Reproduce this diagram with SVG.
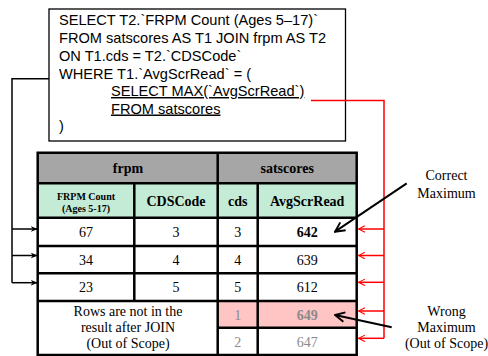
<svg xmlns="http://www.w3.org/2000/svg" width="488" height="356" viewBox="0 0 488 356">
<style>
.sql{font-family:"Liberation Sans",Arial,sans-serif;font-size:14.6px;fill:#000}
.t{font-family:"Liberation Serif","Times New Roman",serif;font-size:14px;fill:#000;text-anchor:middle}
.b{font-weight:bold}
.g{fill:#8a8a8a}
.grid{stroke:#000;stroke-width:2.5;fill:none}
.blk{stroke:#000;stroke-width:1.5;fill:none}
.red{stroke:#ff0000;stroke-width:1.5;fill:none}
.arr{stroke:#000;stroke-width:2;fill:none}
</style>
<defs>
<marker id="ah" viewBox="0 0 10 10" refX="9" refY="5" markerWidth="7" markerHeight="7" markerUnits="userSpaceOnUse" orient="auto">
<path d="M0,1 L10,5 L0,9 L3,5 Z" fill="#000"/>
</marker>
<marker id="ahr" viewBox="0 0 10 10" refX="9" refY="5" markerWidth="8" markerHeight="8" markerUnits="userSpaceOnUse" orient="auto">
<path d="M1,1 L9,5 L1,9" fill="none" stroke="#ff0000" stroke-width="1.3"/>
</marker>
<marker id="ahb" viewBox="0 0 10 10" refX="9" refY="5" markerWidth="12" markerHeight="12" markerUnits="userSpaceOnUse" orient="auto">
<path d="M1,1 L9,5 L1,9" fill="none" stroke="#000" stroke-width="1.6"/>
</marker>
</defs>
<rect width="488" height="356" fill="#fff"/>

<g id="sql">
<rect x="49" y="9" width="296.5" height="132" fill="#fff" stroke="#000" stroke-width="1.3"/>
<text class="sql" x="59" y="25">SELECT T2.`FRPM Count (Ages 5–17)`</text>
<text class="sql" x="59" y="43">FROM satscores AS T1 JOIN frpm AS T2</text>
<text class="sql" x="59" y="60.5">ON T1.cds = T2.`CDSCode`</text>
<text class="sql" x="59" y="78.5">WHERE T1.`AvgScrRead` = (</text>
<text class="sql" x="111" y="96" text-decoration="underline">SELECT MAX(`AvgScrRead`)</text>
<text class="sql" x="111" y="113.5" text-decoration="underline">FROM satscores</text>
<text class="sql" x="59" y="131">)</text>
</g>

<g id="table">
<rect x="37.7" y="152.7" width="319" height="30.6" fill="#a6a6a6"/>
<rect x="37.7" y="183.3" width="319" height="34.4" fill="#c3ebd6"/>
<rect x="217.7" y="301" width="139" height="26.7" fill="#ffc4c4"/>
<path class="grid" d="M37.7,152.7 H356.7 V355 H37.7 Z M37.7,183.3 H356.7 M37.7,217.7 H356.7 M37.7,246 H356.7 M37.7,273.3 H356.7 M37.7,301 H356.7 M217.7,327.7 H356.7 M217.7,152.7 V355 M134.3,183.3 V301 M257.7,183.3 V355"/>
<text class="t b" x="128" y="173">frpm</text>
<text class="t b" x="287.2" y="173">satscores</text>
<text class="t b" x="86" y="199.5" style="font-size:10px">FRPM Count</text>
<text class="t b" x="86" y="211.5" style="font-size:10px">(Ages 5-17)</text>
<text class="t b" x="176" y="205.5">CDSCode</text>
<text class="t b" x="237.7" y="205.5">cds</text>
<text class="t b" x="307.2" y="205.5">AvgScrRead</text>
<text class="t" x="86" y="237">67</text>
<text class="t" x="176" y="237">3</text>
<text class="t" x="237.7" y="237">3</text>
<text class="t b" x="307.2" y="237">642</text>
<text class="t" x="86" y="264.5">34</text>
<text class="t" x="176" y="264.5">4</text>
<text class="t" x="237.7" y="264.5">4</text>
<text class="t" x="307.2" y="264.5">639</text>
<text class="t" x="86" y="292">23</text>
<text class="t" x="176" y="292">5</text>
<text class="t" x="237.7" y="292">5</text>
<text class="t" x="307.2" y="292">612</text>
<text class="t" x="128" y="316">Rows are not in the</text>
<text class="t" x="128" y="332">result after JOIN</text>
<text class="t" x="128" y="348">(Out of Scope)</text>
<text class="t g" x="237.7" y="319.5">1</text>
<text class="t b g" x="307.2" y="319.5">649</text>
<text class="t g" x="237.7" y="346.5">2</text>
<text class="t g" x="307.2" y="346.5">647</text>
</g>

<g id="label-correct">
<text class="t" x="446.5" y="180">Correct</text>
<text class="t" x="446.5" y="198">Maximum</text>
</g>
<g id="label-wrong">
<text class="t" x="446.5" y="315.5">Wrong</text>
<text class="t" x="446.5" y="331.5">Maximum</text>
<text class="t" x="446.5" y="347.5">(Out of Scope)</text>
</g>

<g id="connectors">
<path class="blk" d="M49,78.7 H12 V282.7"/>
<path class="blk" d="M12,229 H37" marker-end="url(#ah)"/>
<path class="blk" d="M12,255.5 H37" marker-end="url(#ah)"/>
<path class="blk" d="M12,282.7 H37" marker-end="url(#ah)"/>
<path class="red" d="M311,100.5 H384 V338.3"/>
<path class="red" d="M384,229 H358.5" marker-end="url(#ahr)"/>
<path class="red" d="M384,255.5 H358.5" marker-end="url(#ahr)"/>
<path class="red" d="M384,282.3 H358.5" marker-end="url(#ahr)"/>
<path class="red" d="M384,311 H358.5" marker-end="url(#ahr)"/>
<path class="red" d="M384,338.3 H358.5" marker-end="url(#ahr)"/>
<path class="arr" d="M406.7,183.3 L335,231.7" marker-end="url(#ahb)"/>
<path class="arr" d="M391.7,327.3 L335,315" marker-end="url(#ahb)"/>
</g>
</svg>
